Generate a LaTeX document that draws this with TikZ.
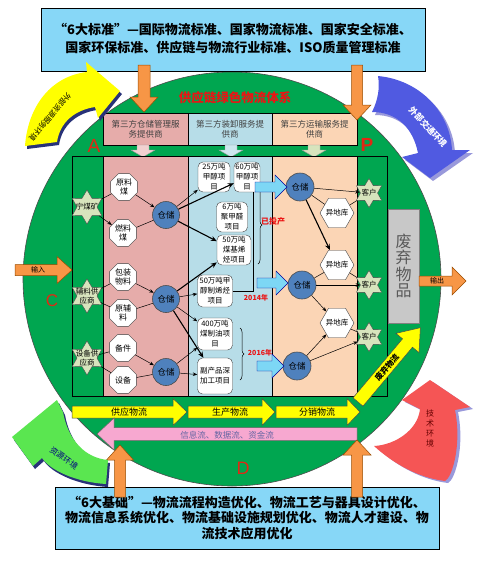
\documentclass[tikz,border=0pt]{standalone}
\usepackage{fontspec}
\setmainfont{Noto Sans CJK SC}
\newfontfamily\lat{Liberation Sans}
\usetikzlibrary{shapes.geometric,arrows.meta,decorations.pathreplacing,calc}
\definecolor{topblue}{RGB}{135,215,247}
\definecolor{ringgreen}{RGB}{0,166,80}
\definecolor{pinkcol}{RGB}{230,172,170}
\definecolor{bluecol}{RGB}{183,221,232}
\definecolor{peachcol}{RGB}{251,213,181}
\definecolor{starfill}{RGB}{215,228,189}
\definecolor{storeblue}{RGB}{79,129,189}
\definecolor{wastegray}{RGB}{200,200,200}
\definecolor{orangeA}{RGB}{247,150,70}
\definecolor{lightarrow}{RGB}{125,215,245}
\definecolor{yellowA}{RGB}{255,255,0}
\definecolor{pinkA}{RGB}{247,168,208}
\definecolor{redtxt}{RGB}{235,20,20}
\definecolor{letterred}{RGB}{225,40,20}
\definecolor{arcblue}{RGB}{80,90,225}
\definecolor{arcred}{RGB}{245,85,85}
\definecolor{arcgreen}{RGB}{90,230,80}
\definecolor{shadowblue}{RGB}{40,50,120}
\newcommand{\fs}[2]{\fontsize{#1}{#2}\selectfont}
\newcommand{\RArrow}[7]{\path[#1] (#2,{#4-#5}) -- ({#3-(#7)},{#4-#5}) -- ({#3-(#7)},{#4-#6}) -- (#3,#4) -- ({#3-(#7)},{#4+#6}) -- ({#3-(#7)},{#4+#5}) -- (#2,{#4+#5}) -- cycle;}
\newcommand{\DArrow}[7]{\path[#1] ({#2-#5},#3) -- ({#2-#5},{#4-(#7)}) -- ({#2-#6},{#4-(#7)}) -- (#2,#4) -- ({#2+#6},{#4-(#7)}) -- ({#2+#5},{#4-(#7)}) -- ({#2+#5},#3) -- cycle;}
\begin{document}
\begin{tikzpicture}[x=1pt,y=-1pt,
 every node/.style={inner sep=0pt},
 hdr/.style={draw=black, line width=0.6pt, minimum width=85pt, minimum height=32pt, align=center, font=\fs{8.5}{10.5}, text=black!75},
 oct/.style={regular polygon, regular polygon sides=8, draw=black!75, fill=white, minimum size=29pt},
 hexa/.style={regular polygon, regular polygon sides=6, draw=black!75, fill=white, minimum size=34pt},
 hstar/.style={star, star points=6, star point ratio=1.7, draw=black!70, fill=starfill, minimum size=#1},
 store/.style={circle, draw=black!70, line width=0.6pt, fill=storeblue, minimum size=27pt, font=\fs{8.5}{10}},
 proj/.style={rectangle, rounded corners=5pt, draw=black!75, fill=white, align=center, font=\fs{7.5}{10}},
 lbl/.style={font=\fs{8}{9.5}, align=center},
 ln/.style={draw=black, line width=0.5pt},
 ar/.style={ln, -{Stealth[length=4.5pt,width=3.5pt]}},
 tar/.style={draw=black, line width=1.1pt, -{Stealth[length=6pt,width=5pt]}},
 orangearrow/.style={fill=orangeA, draw=black!40!orange, line width=0.5pt},
 yelarrow/.style={fill=yellowA, draw=black!70, line width=0.5pt},
 bigblue/.style={fill=lightarrow, draw=black!40!blue, line width=0.4pt},
 redlbl/.style={text=redtxt, font=\fs{8}{9}\bfseries},
 letter/.style={text=letterred, font=\lat\fs{19}{19}}
]
\useasboundingbox (0,0) rectangle (485,565);
\fill[white] (0,0) rectangle (485,565);

% big green circle
\draw[fill=ringgreen, draw=black!70, line width=0.6pt] (232,279) ellipse [x radius=209pt, y radius=207pt];

\node[text=redtxt, font=\fs{12.5}{13}\bfseries] (title) at (235,98) {供应链绿色物流体系};

% headers
\node[hdr, fill=pinkcol] (hd1) at (145.5,129) {第三方仓储管理服\\务提供商};
\node[hdr, fill=bluecol, minimum width=84pt] (hd2) at (230,129) {第三方装卸服务提\\供商};
\node[hdr, fill=peachcol] (hd3) at (314.5,129) {第三方运输服务提\\供商};

\DArrow{fill=pinkcol!55!white, draw=black!40}{143}{145}{157}{6}{12}{7}
\DArrow{fill=bluecol!70!white, draw=black!40}{231}{145}{157}{6}{12}{7}
\DArrow{fill=starfill, draw=black!40}{314}{145}{157}{6}{12}{7}

% columns
\draw[fill=ringgreen, line width=0.8pt] (72,156) rectangle (387,396);
\draw[fill=pinkcol, line width=0.6pt] (103,156) rectangle (188,396);
\draw[fill=bluecol, line width=0.6pt] (188,156) rectangle (272,396);
\draw[fill=peachcol, line width=0.6pt] (272,156) rectangle (357,396);

% waste box
\node[draw=black!50, fill=wastegray, minimum width=31pt, minimum height=114pt] (waste) at (403.5,266) {};
\node[font=\fs{16}{16.5}, text=black!65, align=center] (wastet) at (waste) {废\\弃\\物\\品};

% left stars
\node[hstar=34pt] (s1) at (87,207) {};
\node[lbl, font=\fs{7.5}{9}] (s1t) at (s1) {宁煤矿};
\node[hstar=34pt] (s2) at (87,296) {};
\node[lbl, font=\fs{7.5}{9}] (s2t) at (s2) {辅料供\\应商};
\node[hstar=34pt] (s3) at (87,358) {};
\node[lbl, font=\fs{7.5}{9}] (s3t) at (s3) {设备供\\应商};

% octagons
\node[oct] (o1) at (124,187) {};
\node[lbl] (o1t) at (o1) {原料\\煤};
\node[oct] (o2) at (123,233) {};
\node[lbl] (o2t) at (o2) {燃料\\煤};
\node[oct] (o3) at (123,277) {};
\node[lbl] (o3t) at (o3) {包装\\物料};
\node[oct] (o4) at (123,313) {};
\node[lbl] (o4t) at (o4) {原辅\\料};
\node[oct] (o5) at (123,348) {};
\node[lbl] (o5t) at (o5) {备件};
\node[oct] (o6) at (123,380) {};
\node[lbl] (o6t) at (o6) {设备};

% stores
\node[store] (p1) at (166,215) {仓储};
\node[store] (p2) at (166,299) {仓储};
\node[store] (p3) at (166,372) {仓储};

% projects
\node[proj, minimum width=32pt, minimum height=30pt] (b25) at (214,177) {25万吨\\甲醇项\\目};
\node[proj, minimum width=26pt, minimum height=30pt] (b60) at (247,177) {60万吨\\甲醇项\\目};
\node[proj, minimum width=31pt, minimum height=30pt] (b6) at (232,217) {6万吨\\聚甲醛\\项目};
\node[proj, minimum width=34pt, minimum height=30pt] (b50a) at (234,250) {50万吨\\煤基烯\\烃项目};
\node[proj, minimum width=35pt, minimum height=32pt] (b50b) at (215,291) {50万吨甲\\醇制烯烃\\项目};
\node[proj, minimum width=35pt, minimum height=32pt] (b400) at (215,334) {400万吨\\煤制油项\\目};
\node[proj, minimum width=35pt, minimum height=36pt] (bfu) at (215,376) {副产品深\\加工项目};

% peach column
\node[store, minimum size=28pt] (q1) at (300,187) {仓储};
\node[store, minimum size=28pt] (q2) at (302,285) {仓储};
\node[store, minimum size=28pt] (q3) at (297,366) {仓储};
\node[hexa] (h1) at (337,213) {};
\node[lbl, font=\fs{7.5}{9}] (h1t) at (h1) {异地库};
\node[hexa] (h2) at (337,265) {};
\node[lbl, font=\fs{7.5}{9}] (h2t) at (h2) {异地库};
\node[hexa] (h3) at (337,323) {};
\node[lbl, font=\fs{7.5}{9}] (h3t) at (h3) {异地库};
\node[hstar=29pt] (c1) at (369,193) {};
\node[lbl, font=\fs{7.5}{9}] (c1t) at (c1) {客户};
\node[hstar=29pt] (c2) at (369,285) {};
\node[lbl, font=\fs{7.5}{9}] (c2t) at (c2) {客户};
\node[hstar=29pt] (c3) at (369,337) {};
\node[lbl, font=\fs{7.5}{9}] (c3t) at (c3) {客户};

% connectors pink column
\draw[ln] (s1) -- (o1);
\draw[ar] (s1) -- (o2);
\draw[ar] (o1) -- (p1);
\draw[ln] (o2) -- (p1);
\draw[ln] (s2) -- (o3);
\draw[ln] (s2) -- (o4);
\draw[ar] (o3) -- (p2);
\draw[ln] (o4) -- (p2);
\draw[ln] (s3) -- (o5);
\draw[ln] (s3) -- (o6);
\draw[ar] (o5) -- (p3);
\draw[ln] (o6) -- (p3);
% to projects
\draw[ar] (p1) -- (b25);
\draw[tar] (p1) -- (b60);
\draw[tar] (p1) -- (b50a);
\draw[tar] (p2) -- (b50a);
\draw[ar] (p2) -- (b50b);
\draw[ar] (p2) -- (b400);
\draw[tar] (p2) -- (bfu);
\draw[ar] (p3) -- (b400);
\draw[ar] (p3) -- (bfu);
% peach connectors
\draw[ar] (q1) -- (c1);
\draw[ln] (q1) -- (h1);
\draw[tar] (q1) -- (h2);
\draw[ln] (h1) -- (c1);
\draw[ar] (q2) -- (c2);
\draw[ln] (q2) -- (h2);
\draw[ar] (q2) -- (h3);
\draw[ln] (h2) -- (c2);
\draw[ar] (q3) -- (h3);
\draw[ar] (q3) -- (c3);
\draw[ln] (h3) -- (c3);

% annotations
\draw[ln, decorate, decoration={brace, amplitude=4pt}] (258,186) -- (258,264);
\node[redlbl] (lab1) at (273,221) {已投产};
\draw[ln] (b50b.east) -| ([xshift=6pt]b60.south);
\node[redlbl, font=\fs{7}{8}\bfseries] (lab2) at (256,298) {2014年};
\draw[ln, decorate, decoration={brace, amplitude=4pt}] (240,328) -- (240,380);
\node[redlbl, font=\fs{7}{8}\bfseries] (lab3) at (260,353) {2016年};

% light blue arrows
\RArrow{bigblue}{255}{287}{187}{5}{12}{12}
\RArrow{bigblue}{257}{288}{283}{5}{12}{12}
\RArrow{bigblue}{257}{284}{366}{5}{12}{12}

% flow arrows
\RArrow{yelarrow}{72}{187}{412}{6}{13.5}{14}
\RArrow{yelarrow}{188}{275}{412}{6}{13.5}{13}
\RArrow{yelarrow}{276}{360}{412}{6}{13.5}{13}
\node[font=\fs{9}{10}] (f1) at (129,412) {供应物流};
\node[font=\fs{9}{10}] (f2) at (230,412) {生产物流};
\node[font=\fs{9}{10}] (f3) at (317,412) {分销物流};
\RArrow{fill=pinkA, draw=black!60, line width=0.5pt}{357}{97}{434}{6.5}{16}{-17}
\node[font=\fs{8.5}{10}, text=black!60!blue!60] (f4) at (227,435) {信息流、数据流、资金流};

\begin{scope}[shift={(358,402)}, rotate=50]
\RArrow{yelarrow}{0}{97}{0}{6.5}{15}{20}
\node[rotate=50, font=\fs{8}{9}\bfseries] (f5) at (45,0) {废弃物流};
\end{scope}

% input / output
\RArrow{orangearrow}{15}{72}{270}{5.5}{13.5}{15}
\node[font=\fs{7}{8}] (inp) at (38,270) {输入};
\RArrow{orangearrow}{419}{466}{281}{5}{14}{14}
\node[font=\fs{7}{8}] (outp) at (437,281) {输出};

% letters
\node[letter] (LA) at (94,146) {A};
\node[letter, font=\lat\bfseries\fs{19}{19}] (LP) at (367,145) {P};
\node[letter, font=\lat\fs{17}{17}] (LC) at (52,301) {C};
\node[letter, font=\lat\fs{18}{18}] (LD) at (243,468) {D};

% top and bottom boxes
\node[draw=black, line width=0.8pt, fill=topblue, minimum width=384pt, minimum height=63pt] (stdbox) at (233,39.5) {};
\node[font=\fs{13}{18}\bfseries, align=center] (stdtxt) at (233,39) {“6大标准”—国际物流标准、国家物流标准、国家安全标准、\\国家环保标准、供应链与物流行业标准、ISO质量管理标准};
\node[draw=black, line width=0.8pt, fill=topblue, minimum width=384pt, minimum height=62pt] (basebox) at (247,518) {};
\node[font=\fs{13}{15.5}\bfseries, align=center] (basetxt) at (247,518) {“6大基础”—物流流程构造优化、物流工艺与器具设计优化、\\物流信息系统优化、物流基础设施规划优化、物流人才建设、物\\流技术应用优化};

\DArrow{orangearrow}{144}{65}{112}{6}{14}{15}
\DArrow{orangearrow}{357}{65}{120}{5.5}{14}{15}
\DArrow{orangearrow}{120}{497}{445}{5.5}{13.5}{-15}
\DArrow{orangearrow}{357}{497}{440}{5.5}{14}{-15}

% curved arrows: yellow (top-left)
\fill[shadowblue, shift={(2,3)}] (25,146) .. controls (28,105) and (52,76) .. (87,72) -- (86,62) -- (120,91) -- (98,118) -- (95,107) .. controls (75,110) and (60,122) .. (57,142) -- cycle;
\fill[yellowA] (25,146) .. controls (28,105) and (52,76) .. (87,72) -- (86,62) -- (120,91) -- (98,118) -- (95,107) .. controls (75,110) and (60,122) .. (57,142) -- cycle;
\node[rotate=-130, font=\fs{7.5}{8}] (yt) at (50,117) {外部资源服务环境};

% blue (top-right)
\fill[black!35!blue!40, shift={(3,3)}] (378,76) .. controls (420,80) and (450,112) .. (452,150) -- (470,150) -- (430,178) -- (402,157) -- (418,153) .. controls (413,128) and (397,112) .. (372,112) .. controls (378,100) and (380,88) .. (378,76) -- cycle;
\fill[arcblue] (378,76) .. controls (420,80) and (450,112) .. (452,150) -- (470,150) -- (430,178) -- (402,157) -- (418,153) .. controls (413,128) and (397,112) .. (372,112) .. controls (378,100) and (380,88) .. (378,76) -- cycle;
\node[rotate=-47, text=white, font=\fs{8.5}{9}\bfseries] (bt) at (428,127) {外部交通环境};

% red (bottom-right)
\fill[black!35!blue!40, shift={(3,2)}] (402,400) -- (430,380) -- (470,407) -- (455,410) .. controls (462,445) and (452,478) .. (445,481) .. controls (420,478) and (395,465) .. (374,446) .. controls (395,445) and (418,430) .. (420,409) -- cycle;
\fill[arcred] (402,400) -- (430,380) -- (470,407) -- (455,410) .. controls (462,445) and (452,478) .. (445,481) .. controls (420,478) and (395,465) .. (374,446) .. controls (395,445) and (418,430) .. (420,409) -- cycle;
\node[font=\fs{8}{10}, text=black!60!red, align=center] (rt) at (430,428) {技\\术\\环\\境};

% green (bottom-left)
\fill[shadowblue, shift={(2,3)}] (12,437) -- (57,400) -- (63,412) .. controls (68,440) and (85,458) .. (108,460) -- (106,484) .. controls (75,482) and (50,470) .. (42,458) -- (33,466) -- cycle;
\fill[arcgreen] (12,437) -- (57,400) -- (63,412) .. controls (68,440) and (85,458) .. (108,460) -- (106,484) .. controls (75,482) and (50,470) .. (42,458) -- (33,466) -- cycle;
\node[rotate=-35, text=blue!50!black, font=\fs{8}{9}] (gt) at (64,458) {资源环境};
\end{tikzpicture}
\end{document}
